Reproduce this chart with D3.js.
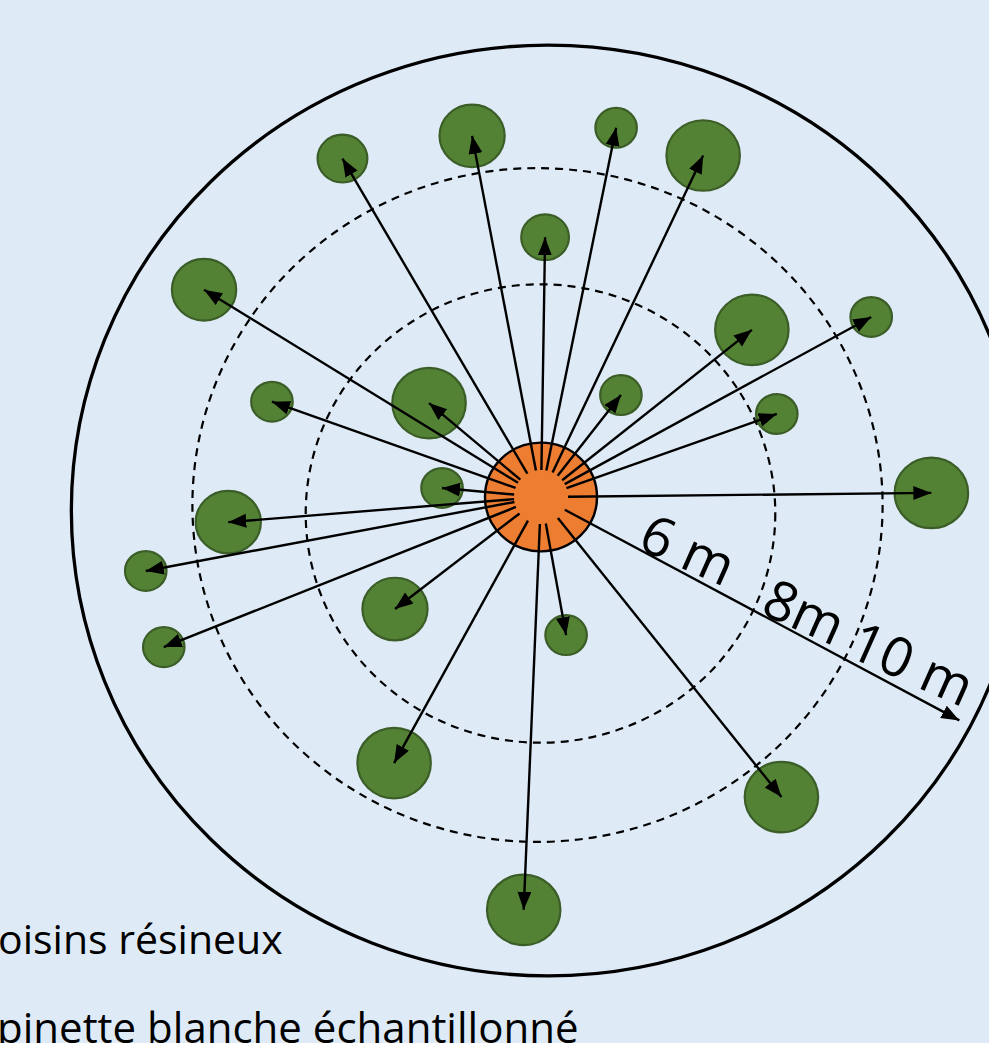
<!DOCTYPE html>
<html>
<head>
<meta charset="utf-8">
<script src="https://cdn.jsdelivr.net/npm/d3@7/dist/d3.min.js"></script>
<style>
  html, body { margin: 0; padding: 0; background: #DEEBF7; overflow: hidden; }
  svg { display: block; }
</style>
</head>
<body>
<div id="chart"></div>
<script>
// neighbour trees around the sampled white spruce
// distance from the sampled stem (m), compass bearing (deg), crown diameter (m)
const treeDist    = [8.79, 8.41, 8.55, 8.57, 6.51, 8.84, 6.68, 8.54, 6.98, 3.78, 3.35,
                     6.33, 2.57, 7.50, 8.76, 8.94, 9.00, 4.76, 3.63, 7.32, 9.11, 8.67];
const treeBearing = [329.6, 349.2, 11.5, 25.4, 0.9, 301.6, 51.6, 61.4, 289.5, 310.0, 38.1,
                     70.6, 275.2, 265.4, 89.4, 259.4, 248.3, 232.5, 169.7, 208.9, 182.4, 141.3];
const treeCrown   = [1.2, 1.57, 1.0, 1.77, 1.15, 1.55, 1.77, 1.0, 1.0, 1.77, 1.0,
                     1.0, 1.0, 1.57, 1.77, 1.0, 1.0, 1.57, 1.0, 1.77, 1.77, 1.77];

// sampled tree
const sampledCrown = 2.7;

// search radii
const ringDist   = [6, 8, 10];
const ringLabels = ['6 m', '8m', '10 m'];
const ringDashed = [true, true, false];

// measure arrow
const measureDist = 10.05;
const measureBearing = 118.1;

const legendLines = ['oisins résineux', 'pinette blanche échantillonné'];

// ---- layout
const W = 989, H = 1043;
const C = { x: 541, y: 497 };
const ringShift = [[-0.5, 16.5], [-3.5, 8], [7, 13.5]];
const startGap = 27;

const svg = d3.select('#chart').append('svg')
  .attr('width', W).attr('height', H)
  .attr('xmlns', 'http://www.w3.org/2000/svg');

svg.append('rect').attr('width', W).attr('height', H).attr('fill', '#DEEBF7');

// radial scale: metres -> pixels (schematic, not to scale)
const rScale = d3.scaleLinear().domain([0, 6, 8, 10]).range([0, 232, 341, 471]);
const crownScale = d3.scaleLinear().domain([0, 2]).range([0, 41.5]);

function polar(d, b) {
  const a = (b - 90) * Math.PI / 180;
  const r = rScale(d);
  return [C.x + r * Math.cos(a), C.y + r * Math.sin(a)];
}
function startPt(b) {
  const a = (b - 90) * Math.PI / 180;
  return [C.x + startGap * Math.cos(a), C.y + startGap * Math.sin(a)];
}

const defs = svg.append('defs');
defs.append('marker')
  .attr('id', 'arrow')
  .attr('markerUnits', 'userSpaceOnUse')
  .attr('markerWidth', 19).attr('markerHeight', 15)
  .attr('refX', 18).attr('refY', 7)
  .attr('orient', 'auto')
  .append('path')
  .attr('d', 'M0,0 L18,7 L0,14 Z')
  .attr('fill', '#000');

// rings
svg.append('g').selectAll('ellipse')
  .data(ringDist)
  .enter().append('ellipse')
  .attr('cx', (d, i) => C.x + ringShift[i][0])
  .attr('cy', (d, i) => C.y + ringShift[i][1])
  .attr('rx', d => rScale(d) * 1.012)
  .attr('ry', d => rScale(d) * 0.988)
  .attr('fill', 'none')
  .attr('stroke', '#000')
  .attr('stroke-width', (d, i) => ringDashed[i] ? 2.2 : 3.3)
  .attr('stroke-dasharray', (d, i) => ringDashed[i] ? '8,6' : null);

// sampled tree
svg.append('ellipse')
  .attr('cx', C.x).attr('cy', C.y)
  .attr('rx', crownScale(sampledCrown))
  .attr('ry', crownScale(sampledCrown) * 0.97)
  .attr('fill', '#ED7D31')
  .attr('stroke', '#000')
  .attr('stroke-width', 2.4);

const trees = treeDist.map((d, i) => ({ d: d, b: treeBearing[i], c: treeCrown[i] }));

// neighbour crowns
svg.append('g').selectAll('ellipse')
  .data(trees)
  .enter().append('ellipse')
  .attr('cx', t => polar(t.d, t.b)[0])
  .attr('cy', t => polar(t.d, t.b)[1])
  .attr('rx', t => crownScale(t.c))
  .attr('ry', t => crownScale(t.c) * 0.96)
  .attr('fill', '#548235')
  .attr('stroke', '#3B5D27')
  .attr('stroke-width', 2.2);

// distance arrows
svg.append('g').selectAll('line')
  .data(trees)
  .enter().append('line')
  .attr('x1', t => startPt(t.b)[0])
  .attr('y1', t => startPt(t.b)[1])
  .attr('x2', t => polar(t.d, t.b)[0])
  .attr('y2', t => polar(t.d, t.b)[1])
  .attr('stroke', '#000')
  .attr('stroke-width', 2.4)
  .attr('marker-end', 'url(#arrow)');

// measure arrow
const mEnd = polar(measureDist, measureBearing);
svg.append('line')
  .attr('x1', startPt(measureBearing)[0]).attr('y1', startPt(measureBearing)[1])
  .attr('x2', mEnd[0]).attr('y2', mEnd[1])
  .attr('stroke', '#000')
  .attr('stroke-width', 2.4)
  .attr('marker-end', 'url(#arrow)');

// ring labels along the measure arrow
const ma = (measureBearing - 90) * Math.PI / 180;
const nx = Math.sin(ma), ny = -Math.cos(ma);
svg.append('g').selectAll('text')
  .data(ringLabels)
  .enter().append('text')
  .attr('transform', (d, i) => {
    const mid = ((i === 0 ? 2 : ringDist[i - 1]) + ringDist[i]) / 2;
    const p = polar(mid, measureBearing);
    const off = i === 2 ? 28 : 23;
    return 'translate(' + (p[0] + nx * off) + ',' + (p[1] + ny * off) + ') rotate(24)';
  })
  .attr('text-anchor', 'middle')
  .attr('dy', '0.36em')
  .style('font-family', '"Open Sans", sans-serif')
  .style('font-size', '55px')
  .style('fill', '#000')
  .text(d => d);

// legend text (cut at the left edge, as in the source figure)
svg.append('g').selectAll('text')
  .data(legendLines)
  .enter().append('text')
  .attr('x', (d, i) => i === 0 ? -2 : -3)
  .attr('y', (d, i) => i === 0 ? 954 : 1043)
  .style('font-family', '"Open Sans", sans-serif')
  .style('font-size', (d, i) => i === 0 ? '41px' : '42px')
  .style('fill', '#000')
  .text(d => d);
</script>
</body>
</html>
